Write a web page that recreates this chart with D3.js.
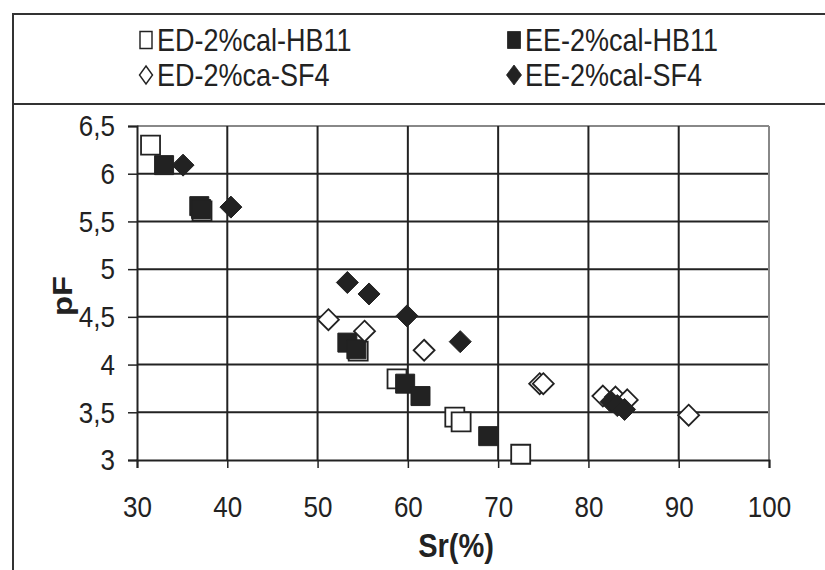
<!DOCTYPE html>
<html>
<head>
<meta charset="utf-8">
<script src="https://cdn.jsdelivr.net/npm/d3@7"></script>
<style>
  html, body { margin: 0; padding: 0; background: #fff; }
  svg { display: block; }
  text { font-family: "Liberation Sans", Arial, sans-serif; fill: #222; }
</style>
</head>
<body>
<svg id="chart" width="825" height="570"></svg>
<script>
// pF against degree of saturation Sr(%) for four soil series
const seriesNames = ["ED-2%cal-HB11", "EE-2%cal-HB11", "ED-2%ca-SF4", "EE-2%cal-SF4"];

const edHB11 = [[31.5, 6.30], [37.2, 5.61], [54.5, 4.14], [58.8, 3.85], [65.2, 3.45], [65.9, 3.40], [72.5, 3.06]];
const eeHB11 = [[33.0, 6.09], [36.9, 5.66], [37.1, 5.63], [53.3, 4.23], [54.3, 4.16], [59.7, 3.80], [61.4, 3.67], [68.9, 3.25]];
const edSF4  = [[51.2, 4.47], [55.2, 4.35], [61.8, 4.15], [74.6, 3.80], [75.0, 3.80], [81.6, 3.67], [83.0, 3.66], [84.3, 3.63], [91.1, 3.47]];
const eeSF4  = [[35.1, 6.09], [40.4, 5.65], [53.3, 4.86], [55.7, 4.74], [59.9, 4.51], [65.8, 4.24], [82.5, 3.61], [83.2, 3.57], [84.0, 3.53]];

const xTicks = [30, 40, 50, 60, 70, 80, 90, 100];
const yTicks = [3, 3.5, 4, 4.5, 5, 5.5, 6, 6.5];

const ink = "#222";
const stretch = 1.17;   // text glyphs are drawn slightly tall
const svg = d3.select("#chart");

const plot = { left: 137, right: 769, top: 126, bottom: 460 };
const x = d3.scaleLinear().domain([30, 100]).range([plot.left, plot.right]);
const y = d3.scaleLinear().domain([3, 6.5]).range([plot.bottom, plot.top]);

// outer frame and legend separator
svg.append("line").attr("x1", 13).attr("x2", 13).attr("y1", 14).attr("y2", 570)
  .attr("stroke", "#333").attr("stroke-width", 2);
svg.append("line").attr("x1", 12).attr("x2", 825).attr("y1", 14).attr("y2", 14)
  .attr("stroke", "#333").attr("stroke-width", 2);
svg.append("line").attr("x1", 13).attr("x2", 825).attr("y1", 104).attr("y2", 104)
  .attr("stroke", "#333").attr("stroke-width", 2);

// gridlines
const grid = svg.append("g");
grid.selectAll(".gy").data(yTicks.slice(1)).join("line")
  .attr("x1", plot.left).attr("x2", plot.right)
  .attr("y1", d => y(d)).attr("y2", d => y(d))
  .attr("stroke", d => d === 6.5 ? "#888" : ink).attr("stroke-width", 2);
grid.selectAll(".gx").data(xTicks.slice(1)).join("line")
  .attr("x1", d => x(d)).attr("x2", d => x(d))
  .attr("y1", plot.top).attr("y2", plot.bottom)
  .attr("stroke", d => d === 100 ? "#888" : ink).attr("stroke-width", 2);

// axes
const fmt = d => String(d).replace(".", ",");
const yAxis = svg.append("g").attr("transform", `translate(${plot.left},0)`)
  .call(d3.axisLeft(y).tickValues(yTicks).tickFormat(fmt).tickSize(9).tickPadding(13));
const xAxis = svg.append("g").attr("transform", `translate(0,${plot.bottom})`)
  .call(d3.axisBottom(x).tickValues(xTicks).tickSize(8).tickPadding(27));
[xAxis, yAxis].forEach(a => {
  a.select(".domain").attr("stroke", ink).attr("stroke-width", 2);
  a.selectAll(".tick line").attr("stroke", ink).attr("stroke-width", 1.5);
  a.selectAll(".tick text").attr("fill", ink).style("font-size", "26px")
    .style("font-family", '"Liberation Sans", Arial, sans-serif')
    .each(function () {
      const t = d3.select(this);
      const tx = +t.attr("x") || 0, ty = +t.attr("y") || 0;
      t.attr("x", 0).attr("y", 0)
        .attr("transform", `translate(${tx},${ty}) scale(1,${stretch})`);
    });
});

// axis titles
svg.append("text").attr("transform", `translate(456,557) scale(1,${stretch})`).attr("text-anchor", "middle")
  .style("font-size", "29px").style("font-weight", "bold").text("Sr(%)");
svg.append("text").attr("transform", `translate(72,296) rotate(-90) scale(${stretch},1)`)
  .attr("text-anchor", "middle").style("font-size", "28px").style("font-weight", "bold").text("pF");

// marker shapes
function rectPath(w, h) { return `M${-w/2},${-h/2}h${w}v${h}h${-w}Z`; }
function diamondPath(rx, ry) { return `M0,${-ry}L${rx},0L0,${ry}L${-rx},0Z`; }

const styles = [
  { data: edHB11, path: rectPath(19, 19), fill: "#fff", sw: 1.8, lpath: rectPath(12, 17) },
  { data: eeHB11, path: rectPath(19, 19), fill: ink, sw: 1, lpath: rectPath(13, 17) },
  { data: edSF4,  path: diamondPath(10.5, 10.5), fill: "#fff", sw: 1.8, lpath: diamondPath(6.5, 9) },
  { data: eeSF4,  path: diamondPath(11, 11), fill: ink, sw: 1, lpath: diamondPath(7.5, 10) }
];

const marks = svg.append("g");
styles.forEach((st, i) => {
  marks.append("g").attr("class", "series-" + i)
    .selectAll("path").data(st.data).join("path")
    .attr("d", st.path)
    .attr("transform", d => `translate(${x(d[0])},${y(d[1])})`)
    .attr("fill", st.fill).attr("stroke", ink).attr("stroke-width", st.sw);
});

// legend
const legendPos = [[146, 40], [514, 40], [146, 75], [514, 75]];
const legend = svg.append("g");
seriesNames.forEach((name, i) => {
  const [lx, ly] = legendPos[i];
  legend.append("path").attr("d", styles[i].lpath)
    .attr("transform", `translate(${lx},${ly})`)
    .attr("fill", styles[i].fill).attr("stroke", ink).attr("stroke-width", styles[i].sw * 0.8);
  legend.append("text").attr("transform", `translate(${lx + 11},${ly + 11}) scale(1,${stretch})`)
    .style("font-size", "27px").text(name);
});
</script>
</body>
</html>
